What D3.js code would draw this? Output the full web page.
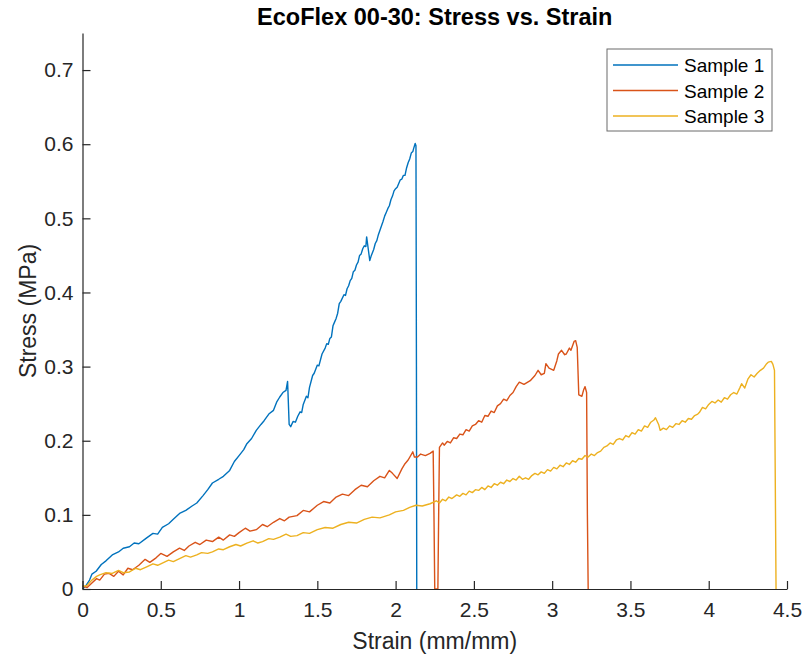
<!DOCTYPE html>
<html>
<head>
<meta charset="utf-8">
<script src="https://cdn.jsdelivr.net/npm/d3@7"></script>
<style>
  body { margin: 0; background: #fff; }
  svg { display: block; font-family: "Liberation Sans", Arial, Helvetica, sans-serif; }
  .tick text { fill: #262626; }
</style>
</head>
<body>
<div id="chart"></div>
<script>
// EcoFlex 00-30 tensile test

const seriesNames = ["Sample 1", "Sample 2", "Sample 3"];
const seriesColors = ["#0072BD", "#D95319", "#EDB120"];

const xTicks = [0, 0.5, 1, 1.5, 2, 2.5, 3, 3.5, 4, 4.5];
const yTicks = [0, 0.1, 0.2, 0.3, 0.4, 0.5, 0.6, 0.7];

// [strain, stress]
const sample1 = [
    [0,0],[0.02,0.004],[0.045,0.012],[0.06,0.02],[0.087,0.024],[0.12,0.033],[0.15,0.038],[0.19,0.046],
    [0.23,0.05],[0.26,0.055],[0.30,0.057],[0.33,0.062],[0.36,0.061],[0.41,0.069],[0.45,0.075],[0.48,0.074],
    [0.51,0.083],[0.55,0.088],[0.58,0.094],[0.62,0.102],[0.66,0.106],[0.70,0.112],[0.73,0.116],[0.77,0.126],
    [0.80,0.134],[0.83,0.143],[0.87,0.148],[0.90,0.152],[0.94,0.160],[0.97,0.172],[1.00,0.180],[1.03,0.188],
    [1.05,0.196],[1.08,0.203],[1.11,0.214],[1.14,0.222],[1.16,0.227],[1.19,0.236],[1.22,0.241],[1.24,0.252],
    [1.26,0.259],[1.28,0.265],[1.30,0.268],[1.31,0.280],[1.32,0.222],[1.33,0.219],[1.345,0.226],[1.36,0.225],
    [1.375,0.233],[1.39,0.239],[1.40,0.238],[1.41,0.249],[1.43,0.260],[1.44,0.258],[1.45,0.272],[1.47,0.288],
    [1.48,0.291],[1.50,0.302],[1.51,0.301],[1.53,0.317],[1.55,0.325],[1.56,0.331],[1.57,0.330],[1.58,0.338],
    [1.59,0.340],[1.60,0.355],[1.61,0.360],[1.62,0.365],[1.63,0.372],[1.64,0.385],[1.65,0.388],[1.67,0.397],
    [1.68,0.396],[1.69,0.405],[1.70,0.409],[1.71,0.416],[1.72,0.419],[1.73,0.428],[1.74,0.430],[1.75,0.437],
    [1.76,0.441],[1.77,0.450],[1.78,0.452],[1.79,0.459],[1.80,0.463],[1.81,0.462],[1.815,0.475],[1.825,0.459],
    [1.835,0.443],[1.845,0.450],[1.86,0.458],[1.87,0.466],[1.88,0.470],[1.89,0.478],[1.90,0.484],[1.91,0.490],
    [1.92,0.496],[1.93,0.503],[1.94,0.508],[1.95,0.513],[1.96,0.517],[1.97,0.525],[1.98,0.530],[1.99,0.537],
    [2.00,0.540],[2.01,0.542],[2.02,0.547],[2.03,0.552],[2.04,0.553],[2.05,0.558],[2.06,0.558],[2.07,0.568],
    [2.08,0.575],[2.09,0.580],[2.10,0.588],[2.11,0.590],[2.115,0.594],[2.125,0.601],[2.13,0.598],[2.133,0.3],
    [2.135,0]
];

const sample2 = [
    [0,0.004],[0.03,0.002],[0.06,0.008],[0.09,0.014],[0.11,0.012],[0.14,0.02],[0.17,0.021],[0.20,0.017],
    [0.23,0.024],[0.26,0.019],[0.29,0.028],[0.32,0.026],[0.36,0.032],[0.40,0.040],[0.43,0.036],[0.47,0.042],
    [0.50,0.048],[0.54,0.044],[0.58,0.050],[0.62,0.055],[0.65,0.052],[0.68,0.058],[0.72,0.063],[0.75,0.060],
    [0.79,0.066],[0.83,0.064],[0.87,0.070],[0.90,0.066],[0.94,0.073],[0.97,0.071],[1.00,0.076],[1.04,0.082],
    [1.07,0.078],[1.11,0.080],[1.15,0.087],[1.18,0.084],[1.22,0.090],[1.26,0.095],[1.29,0.092],[1.32,0.097],
    [1.37,0.099],[1.41,0.106],[1.45,0.104],[1.50,0.113],[1.54,0.118],[1.58,0.116],[1.62,0.124],[1.66,0.128],
    [1.70,0.126],[1.74,0.134],[1.78,0.140],[1.82,0.138],[1.86,0.146],[1.90,0.152],[1.93,0.150],[1.96,0.160],
    [1.98,0.156],[2.01,0.149],[2.04,0.162],[2.06,0.169],[2.08,0.174],[2.11,0.185],[2.12,0.178],[2.14,0.178],
    [2.16,0.182],[2.19,0.180],[2.22,0.183],[2.24,0.186],[2.245,0.1],[2.25,0],[2.27,0],[2.275,0.1],
    [2.28,0.191],[2.30,0.197],[2.31,0.194],[2.33,0.199],[2.35,0.197],[2.37,0.204],[2.39,0.203],[2.41,0.209],
    [2.43,0.208],[2.45,0.215],[2.47,0.213],[2.49,0.220],[2.51,0.222],[2.53,0.227],[2.55,0.225],[2.57,0.234],
    [2.59,0.233],[2.61,0.240],[2.63,0.238],[2.65,0.247],[2.67,0.250],[2.69,0.256],[2.71,0.254],[2.73,0.261],
    [2.75,0.265],[2.77,0.273],[2.79,0.279],[2.82,0.276],[2.86,0.281],[2.89,0.288],[2.91,0.295],[2.93,0.289],
    [2.95,0.291],[2.96,0.304],[2.98,0.298],[3.01,0.295],[3.03,0.308],[3.04,0.317],[3.06,0.322],[3.08,0.316],
    [3.09,0.317],[3.11,0.325],[3.12,0.322],[3.14,0.334],[3.15,0.335],[3.16,0.326],[3.17,0.262],[3.19,0.260],
    [3.20,0.268],[3.21,0.273],[3.22,0.265],[3.225,0.1],[3.23,0]
];

const sample3 = [
    [0,0.003],[0.03,0.005],[0.06,0.012],[0.09,0.017],[0.11,0.019],[0.15,0.022],[0.19,0.021],[0.23,0.025],
    [0.26,0.022],[0.30,0.023],[0.34,0.028],[0.37,0.026],[0.41,0.030],[0.45,0.034],[0.48,0.032],[0.51,0.035],
    [0.55,0.039],[0.58,0.037],[0.62,0.041],[0.66,0.045],[0.69,0.043],[0.73,0.046],[0.76,0.049],[0.80,0.048],
    [0.83,0.050],[0.87,0.054],[0.90,0.053],[0.94,0.057],[0.98,0.060],[1.01,0.058],[1.05,0.062],[1.09,0.065],
    [1.12,0.062],[1.15,0.064],[1.19,0.068],[1.22,0.067],[1.26,0.070],[1.30,0.074],[1.33,0.071],[1.37,0.072],
    [1.41,0.076],[1.45,0.075],[1.50,0.080],[1.55,0.083],[1.60,0.082],[1.65,0.087],[1.70,0.090],[1.75,0.089],
    [1.80,0.094],[1.85,0.097],[1.90,0.096],[1.96,0.100],[2.00,0.104],[2.05,0.106],[2.09,0.110],[2.13,0.113],
    [2.17,0.112],[2.22,0.115],[2.26,0.119],[2.28,0.116],[2.30,0.121],[2.32,0.119],[2.34,0.124],[2.36,0.122],
    [2.39,0.127],[2.41,0.125],[2.43,0.129],[2.45,0.127],[2.47,0.132],[2.49,0.130],[2.51,0.134],[2.53,0.133],
    [2.55,0.137],[2.57,0.134],[2.59,0.139],[2.61,0.137],[2.63,0.142],[2.65,0.140],[2.67,0.144],[2.69,0.142],
    [2.71,0.147],[2.73,0.145],[2.75,0.149],[2.77,0.147],[2.79,0.152],[2.81,0.148],[2.83,0.150],[2.85,0.148],
    [2.87,0.153],[2.89,0.156],[2.91,0.154],[2.93,0.158],[2.95,0.156],[2.97,0.161],[2.99,0.159],[3.01,0.164],
    [3.03,0.162],[3.05,0.167],[3.07,0.165],[3.09,0.170],[3.11,0.168],[3.13,0.173],[3.15,0.171],[3.17,0.176],
    [3.19,0.175],[3.21,0.180],[3.23,0.178],[3.25,0.182],[3.27,0.180],[3.29,0.184],[3.31,0.186],[3.33,0.191],
    [3.35,0.193],[3.37,0.197],[3.39,0.195],[3.41,0.201],[3.43,0.203],[3.45,0.201],[3.47,0.207],[3.49,0.205],
    [3.51,0.211],[3.53,0.209],[3.55,0.215],[3.57,0.213],[3.59,0.220],[3.61,0.218],[3.63,0.225],[3.65,0.228],
    [3.66,0.231],[3.68,0.222],[3.69,0.214],[3.71,0.217],[3.73,0.215],[3.75,0.220],[3.77,0.218],[3.79,0.223],
    [3.81,0.222],[3.83,0.227],[3.85,0.225],[3.87,0.230],[3.89,0.229],[3.91,0.234],[3.93,0.236],[3.94,0.238],
    [3.96,0.245],[3.98,0.243],[4.00,0.249],[4.02,0.253],[4.04,0.251],[4.06,0.255],[4.08,0.252],[4.10,0.258],
    [4.12,0.256],[4.14,0.262],[4.16,0.265],[4.18,0.263],[4.20,0.272],[4.21,0.277],[4.23,0.271],[4.25,0.283],
    [4.27,0.289],[4.29,0.286],[4.31,0.291],[4.33,0.295],[4.35,0.298],[4.37,0.304],[4.38,0.306],[4.40,0.307],
    [4.41,0.303],[4.42,0.295],[4.425,0.15],[4.43,0]
];

const samples = [sample1, sample2, sample3];

const W = 809, H = 659;
const margin = { top: 33, right: 22, bottom: 70, left: 82.5 };
const width = W - margin.left - margin.right;
const height = H - margin.top - margin.bottom;

const svg = d3.select("#chart").append("svg")
    .attr("width", W)
    .attr("height", H);

const g = svg.append("g")
    .attr("transform", `translate(${margin.left},${margin.top})`);

const x = d3.scaleLinear().domain([0, 4.5]).range([0, width]);
const y = d3.scaleLinear().domain([0, 0.75]).range([height, 0]);

// lines
const line = d3.line()
    .x(d => x(d[0]))
    .y(d => y(d[1]));

g.selectAll(".series")
    .data(samples)
    .join("path")
    .attr("class", "series")
    .attr("fill", "none")
    .attr("stroke", (d, i) => seriesColors[i])
    .attr("stroke-width", 1.4)
    .attr("stroke-linejoin", "round")
    .attr("d", line);

// axes, ticks pointing inward like MATLAB
const xAxis = g.append("g")
    .attr("transform", `translate(0,${height})`)
    .call(d3.axisBottom(x).tickValues(xTicks).tickFormat(d3.format("")).tickSizeInner(-8).tickSizeOuter(0).tickPadding(13));

const yAxis = g.append("g")
    .call(d3.axisLeft(y).tickValues(yTicks).tickFormat(d3.format("")).tickSizeInner(-8).tickSizeOuter(0).tickPadding(9));

[xAxis, yAxis].forEach(a => {
    a.select(".domain").attr("stroke", "#262626").attr("stroke-width", 1.2);
    a.selectAll(".tick line").attr("stroke", "#262626").attr("stroke-width", 1.2);
    a.selectAll(".tick text").attr("font-size", 21).attr("font-family", null);
});

// titles
svg.append("text")
    .attr("x", margin.left + width / 2)
    .attr("y", 25)
    .attr("text-anchor", "middle")
    .attr("font-size", 23.5)
    .attr("font-weight", "bold")
    .attr("fill", "#000")
    .text("EcoFlex 00-30: Stress vs. Strain");

svg.append("text")
    .attr("x", margin.left + width / 2)
    .attr("y", 649)
    .attr("text-anchor", "middle")
    .attr("font-size", 23)
    .attr("fill", "#262626")
    .text("Strain (mm/mm)");

svg.append("text")
    .attr("transform", `translate(36,${margin.top + height / 2}) rotate(-90)`)
    .attr("text-anchor", "middle")
    .attr("font-size", 23)
    .attr("fill", "#262626")
    .text("Stress (MPa)");

// legend
const legend = svg.append("g").attr("transform", "translate(607,49)");

legend.append("rect")
    .attr("width", 165)
    .attr("height", 82)
    .attr("fill", "#fff")
    .attr("stroke", "#6b6b6b")
    .attr("stroke-width", 1);

seriesNames.forEach((name, i) => {
    const row = legend.append("g").attr("transform", `translate(0,${16 + i * 25.5})`);
    row.append("line")
        .attr("x1", 6).attr("x2", 71)
        .attr("stroke", seriesColors[i])
        .attr("stroke-width", 1.4);
    row.append("text")
        .attr("x", 77)
        .attr("y", 7)
        .attr("font-size", 19)
        .attr("fill", "#000")
        .text(name);
});
</script>
</body>
</html>
